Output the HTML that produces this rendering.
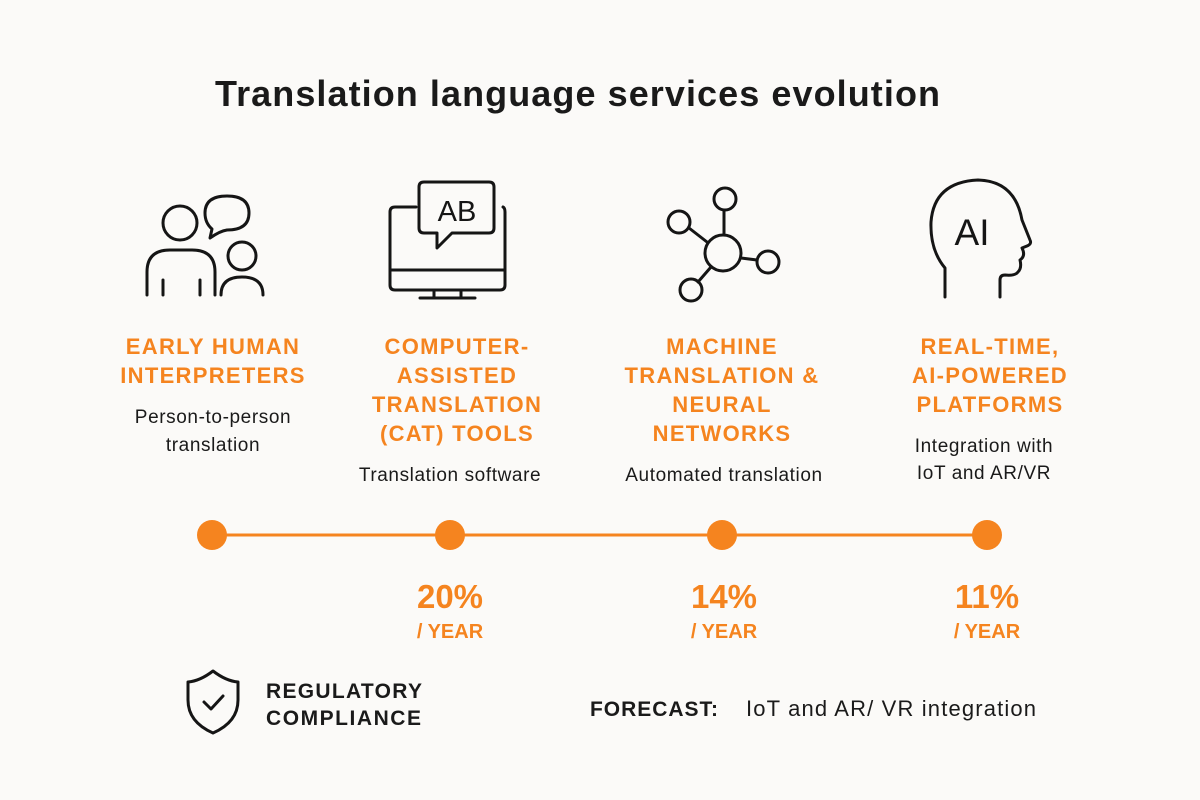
<!DOCTYPE html>
<html><head><meta charset="utf-8"><style>
html,body{margin:0;padding:0;background:#fbfaf8;}
svg{display:block}
</style></head><body>
<svg width="1200" height="800" viewBox="0 0 1200 800" xmlns="http://www.w3.org/2000/svg" font-family="Liberation Sans, DejaVu Sans, sans-serif">
<rect width="1200" height="800" fill="#fbfaf8"/>
<text x="215" y="106" font-size="36" font-weight="bold" fill="#1a1a1a" textLength="725" lengthAdjust="spacing">Translation language services evolution</text>

<g fill="none" stroke="#151515" stroke-width="3" stroke-linecap="round" stroke-linejoin="round">
<circle cx="180" cy="223" r="17"/>
<path d="M147 295 V272 Q147 250 170 250 H192 Q215 250 215 272 V295"/>
<line x1="163" y1="280" x2="163" y2="295"/><line x1="200" y1="280" x2="200" y2="295"/>
<path d="M212 229 Q205 223 205 213 Q205 196 227 196 Q249 196 249 213 Q249 230 227 230 Q220 231 210 238 Z"/>
<circle cx="242" cy="256" r="14"/>
<path d="M221 295 Q221 277 242 277 Q263 277 263 295"/>
<path d="M416 207 H395 Q390 207 390 212 V285 Q390 290 395 290 H500 Q505 290 505 285 V212 Q505 208 503 207"/>
<line x1="390" y1="270" x2="505" y2="270"/>
<line x1="434" y1="290" x2="434" y2="298"/><line x1="461" y1="290" x2="461" y2="298"/>
<line x1="420" y1="298" x2="475" y2="298"/>
<path d="M424 182 H489 Q494 182 494 187 V228 Q494 233 489 233 H452 L437 248 V233 H424 Q419 233 419 228 V187 Q419 182 424 182 Z"/>
<circle cx="723" cy="253" r="18"/>
<circle cx="725" cy="199" r="11"/><line x1="724" y1="210" x2="724" y2="235"/>
<circle cx="679" cy="222" r="11"/><line x1="689" y1="228" x2="707" y2="242"/>
<circle cx="768" cy="262" r="11"/><line x1="741" y1="258" x2="757" y2="260"/>
<circle cx="691" cy="290" r="11"/><line x1="698" y1="282" x2="711" y2="267"/>
<path d="M945 297 V268 Q930 250 931 222 Q934 182 978 180 Q1015 181 1022 220 L1030 240 Q1032 244 1027 246 L1022 248 Q1026 256 1020 260 Q1022 268 1018 272 Q1015 276 1005 275 Q1000 275 1000 280 V297"/>
<path d="M213 671 Q200 681 188 682 V700 Q188 722 213 733 Q238 722 238 700 V682 Q226 681 213 671 Z"/>
<path d="M204 702 L211 709 L223 696"/>
</g>
<text x="457" y="221" text-anchor="middle" font-size="29" fill="#151515">AB</text>
<text x="972" y="245" text-anchor="middle" font-size="37" fill="#151515">AI</text>

<g font-size="22" font-weight="bold" fill="#f5841f" text-anchor="middle" letter-spacing="1.3">
<text x="213" y="354">EARLY HUMAN</text><text x="213" y="383">INTERPRETERS</text>
<text x="457" y="354">COMPUTER-</text><text x="457" y="383">ASSISTED</text><text x="457" y="412">TRANSLATION</text><text x="457" y="441">(CAT) TOOLS</text>
<text x="722" y="354">MACHINE</text><text x="722" y="383">TRANSLATION &amp;</text><text x="722" y="412">NEURAL</text><text x="722" y="441">NETWORKS</text>
<text x="990" y="354">REAL-TIME,</text><text x="990" y="383">AI-POWERED</text><text x="990" y="412">PLATFORMS</text>
</g>
<g font-size="19" fill="#1a1a1a" text-anchor="middle" letter-spacing="0.6">
<text x="213" y="423">Person-to-person</text><text x="213" y="451">translation</text>
<text x="450" y="481">Translation software</text>
<text x="724" y="481">Automated translation</text>
<text x="984" y="452">Integration with</text><text x="984" y="479">IoT and AR/VR</text>
</g>

<line x1="212" y1="535" x2="987" y2="535" stroke="#f5841f" stroke-width="3"/>
<g fill="#f5841f">
<circle cx="212" cy="535" r="15"/><circle cx="450" cy="535" r="15"/><circle cx="722" cy="535" r="15"/><circle cx="987" cy="535" r="15"/>
</g>
<g fill="#f5841f" font-weight="bold" text-anchor="middle">
<text x="450" y="608" font-size="33">20%</text><text x="450" y="638" font-size="20">/ YEAR</text>
<text x="724" y="608" font-size="33">14%</text><text x="724" y="638" font-size="20">/ YEAR</text>
<text x="987" y="608" font-size="33">11%</text><text x="987" y="638" font-size="20">/ YEAR</text>
</g>

<g font-size="21" font-weight="bold" fill="#1a1a1a">
<text x="266" y="698" textLength="156" lengthAdjust="spacing">REGULATORY</text><text x="266" y="725" textLength="155" lengthAdjust="spacing">COMPLIANCE</text>
<text x="590" y="716" textLength="128" lengthAdjust="spacing">FORECAST:</text>
</g>
<text x="746" y="716" font-size="22" fill="#1a1a1a" textLength="290" lengthAdjust="spacing">IoT and AR/ VR integration</text>
</svg>
</body></html>
